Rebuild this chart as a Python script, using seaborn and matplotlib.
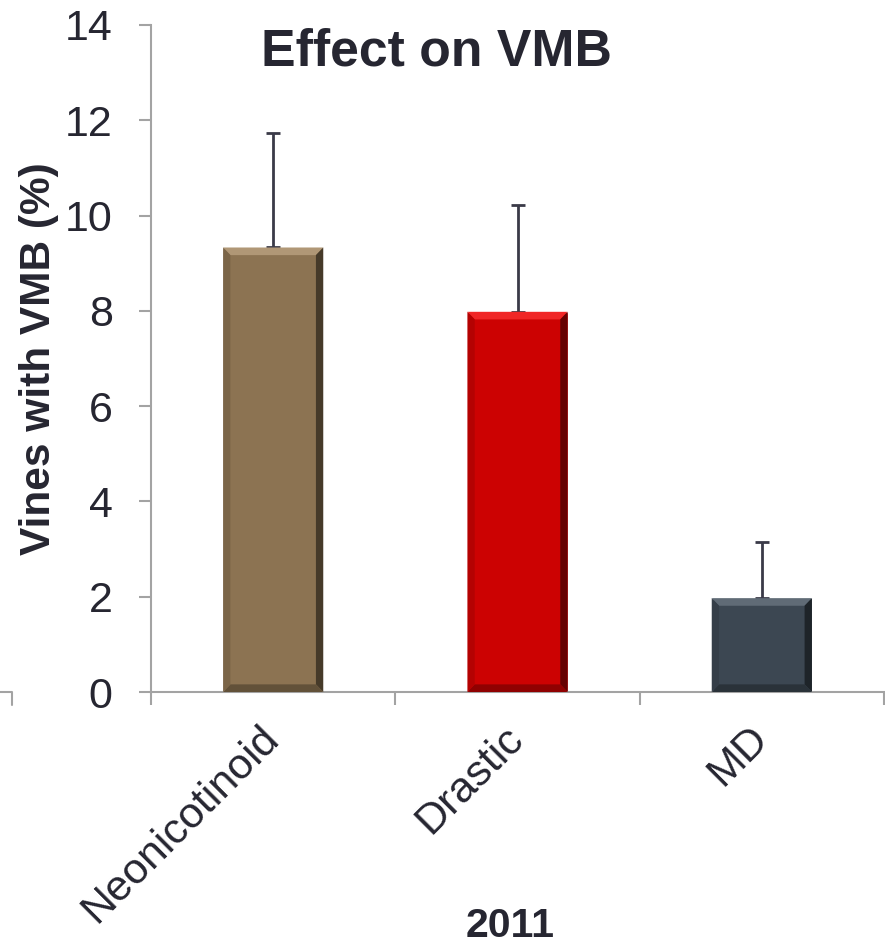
import numpy as np
import pandas as pd
import seaborn as sns
import matplotlib.pyplot as plt
from matplotlib.lines import Line2D

# ---------------------------------------------------------
# Data
# ---------------------------------------------------------
treatments = ["Neonicotinoid", "Drastic", "MD"]
vines_pct = [9.33, 7.98, 1.97]
err_upper = [2.40, 2.25, 1.17]
bar_colors = ["#8C7352", "#CC0202", "#3C4752"]

df = pd.DataFrame({"treatment": treatments, "pct": vines_pct})

# ---------------------------------------------------------
# Plot
# ---------------------------------------------------------
sns.set_style("white")
plt.rcParams["font.family"] = ["Liberation Sans", "DejaVu Sans"]
text_col = "#262631"
axis_col = "#A3A3A3"

fig = plt.figure(figsize=(8.85, 9.44), dpi=100)
ax = fig.add_axes([151 / 885, 252 / 944, 733 / 885, 667 / 944])

sns.barplot(data=df, x="treatment", y="pct", hue="treatment",
            palette=bar_colors, width=0.41, saturation=1, legend=False, ax=ax)
bars = list(ax.patches)
centers = [p.get_x() + p.get_width() / 2 for p in bars]

# bevel effect on each bar, taken from the bar patches
for p, c in zip(bars, bar_colors):
    x0, w, h = p.get_x(), p.get_width(), p.get_height()
    bx, by = 0.03, 0.16
    rgb = np.array(plt.matplotlib.colors.to_rgb(c))
    light = np.clip(rgb + 0.14, 0, 1)
    dark = rgb * 0.5
    ax.fill([x0, x0 + w, x0 + w - bx, x0 + bx], [h, h, h - by, h - by],
            color=light, lw=0, zorder=3)
    ax.fill([x0 + w, x0 + w, x0 + w - bx, x0 + w - bx], [h, 0, by, h - by],
            color=dark, lw=0, zorder=3)
    ax.fill([x0, x0 + w, x0 + w - bx, x0 + bx], [0, 0, by, by],
            color=rgb * 0.7, lw=0, zorder=3)
    ax.fill([x0, x0, x0 + bx, x0 + bx], [0, h, h - by, by],
            color=rgb * 0.88, lw=0, zorder=3)

ax.errorbar(centers, vines_pct, yerr=[np.zeros(len(err_upper)), err_upper],
            fmt="none", ecolor="#3A3A48", elinewidth=2, capsize=4.7,
            capthick=2, zorder=2)

ax.set_ylim(0, 14)
ax.set_xlim(-0.5, 2.5)
ax.set_yticks(range(0, 15, 2))

for s in ["top", "right"]:
    ax.spines[s].set_visible(False)
for s in ["left", "bottom"]:
    ax.spines[s].set_color(axis_col)
    ax.spines[s].set_linewidth(1.5)

ax.tick_params(axis="y", length=8.6, width=1.5, color=axis_col,
               labelsize=31, labelcolor=text_col, pad=19, left=True)
ax.set_xticks(range(len(treatments)))
ax.set_xticklabels(treatments, rotation=45, ha="right", va="center",
                   rotation_mode="anchor")
ax.set_xticks([-0.5, 0.5, 1.5, 2.5], minor=True)
ax.tick_params(axis="x", which="minor", length=9, width=1.5,
               color=axis_col, bottom=True)
ax.tick_params(axis="x", which="major", length=0, labelsize=31,
               labelcolor=text_col, pad=29)

ax.set_ylabel("Vines with VMB (%)", fontsize=30.5, fontweight="bold",
              color=text_col)
ax.yaxis.set_label_coords(-0.125, 0.5)
ax.set_xlabel("2011", fontsize=29.5, fontweight="bold", color=text_col)
ax.xaxis.set_label_coords(0.49, -0.322)

ax.text(0.39, 0.96, "Effect on VMB", transform=ax.transAxes,
        ha="center", va="center", fontsize=37.3, fontweight="bold",
        color=text_col)

# stray axis fragment at the left edge
fig.add_artist(Line2D([0, 12 / 885, 12 / 885], [252 / 944, 252 / 944, 239 / 944],
                      color=axis_col, lw=1.5))

fig.savefig("out.png", dpi=100)
